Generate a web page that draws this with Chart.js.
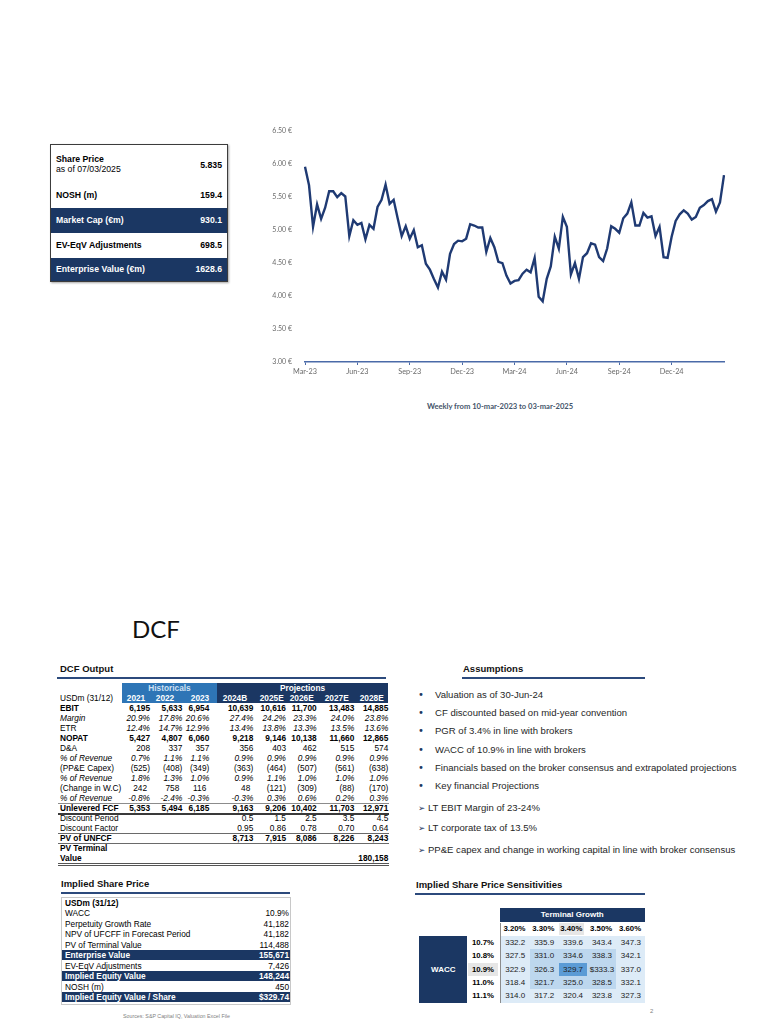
<!DOCTYPE html>
<html><head><meta charset="utf-8">
<script src="https://cdn.jsdelivr.net/npm/chart.js@4.4.1/dist/chart.umd.min.js"></script>
<style>
html,body{margin:0;padding:0;background:#fff;}
body{width:768px;height:1024px;position:relative;overflow:hidden;font-family:"Liberation Sans",Arial,sans-serif;color:#000;}
.a{position:absolute;white-space:nowrap;}
.navy{background:#1b3763;color:#fff;}
.hdr{font-weight:bold;font-size:9.5px;color:#111;}
</style></head><body>

<!-- Share price box -->
<div class="a" style="left:50px;top:144px;width:176px;height:136px;border:1px solid #3c3c3c;box-shadow:1px 1px 2px rgba(0,0,0,0.35);font-size:8.7px;font-weight:bold;">
  <div class="a" style="left:0;top:0;width:176px;height:37px;">
    <div class="a" style="left:5px;top:9px;line-height:10px;">Share Price</div>
    <div class="a" style="left:5px;top:19px;line-height:10px;font-weight:normal;">as of 07/03/2025</div>
    <div class="a" style="right:5px;top:15px;line-height:10px;" id="sp"></div>
  </div>
  <div class="a" style="left:0;top:37px;width:176px;height:26px;line-height:26px;"><span style="position:absolute;left:5px;">NOSH (m)</span><span style="position:absolute;right:5px;" id="nosh"></span></div>
  <div class="a navy" style="left:0;top:63px;width:176px;height:25px;line-height:24px;"><span style="position:absolute;left:5px;">Market Cap (€m)</span><span style="position:absolute;right:5px;" id="mcap"></span></div>
  <div class="a" style="left:0;top:88px;width:176px;height:25px;line-height:24px;"><span style="position:absolute;left:5px;">EV-EqV Adjustments</span><span style="position:absolute;right:5px;" id="adj"></span></div>
  <div class="a navy" style="left:0;top:113px;width:176px;height:23px;line-height:22px;"><span style="position:absolute;left:5px;">Enterprise Value (€m)</span><span style="position:absolute;right:5px;" id="ev"></span></div>
</div>

<!-- Chart -->
<div class="a" style="left:262px;top:122px;width:480px;height:262px;"><canvas id="c"></canvas></div>
<div class="a" style="left:300px;top:400px;width:400px;text-align:center;font-family:Lato,sans-serif;font-weight:bold;font-size:7.6px;color:#44546a;line-height:12px;">Weekly from 10-mar-2023 to 03-mar-2025</div>

<!-- DCF title -->
<div class="a" style="left:132px;top:617px;font-family:Lato,sans-serif;font-size:24px;line-height:24px;color:#111;">DCF</div>

<!-- DCF Output -->
<div class="a hdr" style="left:60px;top:663px;line-height:12px;">DCF Output</div>
<div class="a" style="left:57px;top:677px;width:329px;height:2px;background:#2c4a7c;"></div>
<div id="dcf"></div>

<!-- Assumptions -->
<div class="a hdr" style="left:463px;top:663px;line-height:12px;">Assumptions</div>
<div class="a" style="left:462px;top:677px;width:183px;height:2px;background:#2c4a7c;"></div>
<div id="assm"></div>

<!-- Implied share price -->
<div class="a hdr" style="left:61px;top:878px;line-height:12px;">Implied Share Price</div>
<div class="a" style="left:61px;top:892px;width:229px;height:2px;background:#2c4a7c;"></div>
<div class="a" style="left:61px;top:897px;width:228px;height:106px;border:1px solid #c8c8c8;"></div>
<div id="isp"></div>
<div class="a" style="left:123px;top:1012px;font-size:5.3px;color:#7f7f7f;line-height:8px;">Sources: S&amp;P Capital IQ, Valuation Excel File</div>

<!-- Sensitivities -->
<div class="a hdr" style="left:416px;top:879px;line-height:12px;">Implied Share Price Sensitivities</div>
<div class="a" style="left:415px;top:893px;width:230px;height:2px;background:#2c4a7c;"></div>
<div id="sens"></div>
<div class="a" style="left:650px;top:1007px;font-size:6px;color:#7f7f7f;line-height:8px;">2</div>

<script>
// ---------- Chart data ----------
const tickLabels = ['Mar-23','Jun-23','Sep-23','Dec-23','Mar-24','Jun-24','Sep-24','Dec-24'];
const prices = [
 5.96,5.68,5.05,5.39,5.17,5.34,5.59,5.59,5.50,5.56,5.51,4.91,5.15,5.08,5.11,4.86,5.08,5.02,5.35,5.46,
 5.69,5.40,5.46,5.18,4.91,5.06,4.87,5.00,4.74,4.77,4.49,4.40,4.26,4.13,4.37,4.25,4.64,4.79,4.84,4.83,
 4.87,5.09,5.07,5.04,5.04,4.67,4.88,4.74,4.52,4.50,4.31,
 4.19,4.23,4.24,4.34,4.40,4.36,4.58,3.99,3.92,4.26,4.45,4.90,4.72,5.20,5.05,4.33,4.50,4.26,4.59,4.65,
 4.80,4.78,4.59,4.53,4.72,5.06,5.02,4.96,5.18,5.25,5.42,5.07,5.07,5.26,5.19,5.21,4.91,5.05,4.59,4.58,
 4.90,5.14,5.24,5.30,5.25,5.16,5.20,5.34,5.38,5.44,5.47,5.28,5.42,5.835
];
const weekDates = prices.map((_, i) => {
  const d = new Date(Date.UTC(2023, 2, 10 + 7 * i));
  return d.toISOString().slice(0, 10);
});

// ---------- Share price box ----------
const spBox = {sp:'5.835', nosh:'159.4', mcap:'930.1', adj:'698.5', ev:'1628.6'};
Object.keys(spBox).forEach(k => document.getElementById(k).textContent = spBox[k]);

// ---------- DCF table ----------
const dcfYears = ['2021','2022','2023','2024B','2025E','2026E','2027E','2028E'];
const dcfRows = [
 ['EBIT','b',['6,195','5,633','6,954','10,639','10,616','11,700','13,483','14,885']],
 ['Margin','ii',['20.9%','17.8%','20.6%','27.4%','24.2%','23.3%','24.0%','23.8%']],
 ['ETR','i',['12.4%','14.7%','12.9%','13.4%','13.8%','13.3%','13.5%','13.6%']],
 ['NOPAT','b',['5,427','4,807','6,060','9,218','9,146','10,138','11,660','12,865']],
 ['D&A','',['208','337','357','356','403','462','515','574']],
 ['% of Revenue','ii',['0.7%','1.1%','1.1%','0.9%','0.9%','0.9%','0.9%','0.9%']],
 ['(PP&E Capex)','',['(525)','(408)','(349)','(363)','(464)','(507)','(561)','(638)']],
 ['% of Revenue','ii',['1.8%','1.3%','1.0%','0.9%','1.1%','1.0%','1.0%','1.0%']],
 ['(Change in W.C)','p',['242','758','116','48','(121)','(309)','(88)','(170)']],
 ['% of Revenue','ii',['-0.8%','-2.4%','-0.3%','-0.3%','0.3%','0.6%','0.2%','0.3%']],
 ['Unlevered FCF','b',['5,353','5,494','6,185','9,163','9,206','10,402','11,703','12,971']],
 ['Discount Period','',['','','','0.5','1.5','2.5','3.5','4.5']],
 ['Discount Factor','',['','','','0.95','0.86','0.78','0.70','0.64']],
 ['PV of UNFCF','b',['','','','8,713','7,915','8,086','8,226','8,243']],
 ['PV Terminal','b',['','','','','','','','']],
 ['Value','b',['','','','','','','','180,158']]
];
const colRight = [150,182.3,209.3,253.3,286,316.7,354.3,388.3];
const colHdrCenter = [136,165,200,235,271.7,301.7,336.7,371.7];
(function(){
  let h = '';
  const fs = 'font-size:8.3px;';
  h += `<div class="a" style="left:122px;top:683px;width:95px;height:20px;background:#2e75b6;"></div>`;
  h += `<div class="a navy" style="left:217px;top:683px;width:171px;height:20px;"></div>`;
  h += `<div class="a" style="left:122px;top:683px;width:95px;text-align:center;color:#cfe0f3;font-weight:bold;${fs}line-height:10px;">Historicals</div>`;
  h += `<div class="a" style="left:217px;top:683px;width:171px;text-align:center;color:#fff;font-weight:bold;${fs}line-height:10px;">Projections</div>`;
  h += `<div class="a" style="left:60px;top:693px;${fs}line-height:10px;">USDm (31/12)</div>`;
  dcfYears.forEach((y,i)=>{
    h += `<div class="a" style="left:${colHdrCenter[i]-20}px;top:693px;width:40px;text-align:center;color:#fff;font-weight:bold;${fs}line-height:10px;">${y}</div>`;
  });
  dcfRows.forEach((r,ri)=>{
    const top = 703 + ri*10;
    const st = r[1];
    const lblStyle = (st==='b'?'font-weight:bold;':'') + (st==='ii'?'font-style:italic;':'');
    const valStyle = (st==='b'?'font-weight:bold;':'') + ((st==='ii'||st==='i')?'font-style:italic;':'');
    h += `<div class="a" style="left:60px;top:${top}px;${fs}line-height:10px;${lblStyle}">${r[0].replace('&','&amp;')}</div>`;
    r[2].forEach((v,ci)=>{
      if(!v) return;
      let pr = 0;
      if(st==='p' && v.indexOf('(')<0) pr = 3;
      h += `<div class="a" style="left:${colRight[ci]-50}px;top:${top}px;width:${50-pr}px;text-align:right;${fs}line-height:10px;${valStyle}">${v}</div>`;
    });
  });
  h += `<div class="a" style="left:58px;top:803px;width:331px;height:1px;background:#8c8c8c;"></div>`;
  h += `<div class="a" style="left:58px;top:812.5px;width:331px;height:2px;background:#3a3a3a;"></div>`;
  h += `<div class="a" style="left:58px;top:833px;width:331px;height:1px;background:#6a6a6a;"></div>`;
  h += `<div class="a" style="left:58px;top:843px;width:331px;height:1px;background:#6a6a6a;"></div>`;
  h += `<div class="a" style="left:58px;top:862.5px;width:331px;height:0;border-top:3px double #555;"></div>`;
  document.getElementById('dcf').innerHTML = h;
})();

// ---------- Assumptions ----------
const assumptions = [
 ['•','Valuation as of 30-Jun-24',695],
 ['•','CF discounted based on mid-year convention',712.5],
 ['•','PGR of 3.4% in line with brokers',731],
 ['•','WACC of 10.9% in line with brokers',749.5],
 ['•','Financials based on the broker consensus and extrapolated projections',767.7],
 ['•','Key financial Projections',785.7],
 ['➢','LT EBIT Margin of 23-24%',808.3],
 ['➢','LT corporate tax of 13.5%',827.7],
 ['➢','PP&E capex and change in working capital in line with broker consensus',850]
];
(function(){
  let h='';
  assumptions.forEach(a=>{
    const arrow = a[0]!=='•';
    h += `<div class="a" style="left:418px;top:${a[2]-6}px;line-height:12px;font-size:${arrow?8.5:10}px;color:#1f3864;font-family:'DejaVu Sans',sans-serif;">${a[0]}</div>`;
    h += `<div class="a" style="left:${arrow?428:435}px;top:${a[2]-6}px;line-height:12px;font-size:9.55px;color:#262626;">${a[1].replace('&','&amp;')}</div>`;
  });
  document.getElementById('assm').innerHTML = h;
})();

// ---------- Implied share price ----------
const ispRows = [
 ['USDm (31/12)','','h'],
 ['WACC','10.9%',''],
 ['Perpetuity Growth Rate','41,182',''],
 ['NPV of UFCFF in Forecast Period','41,182',''],
 ['PV of Terminal Value','114,488',''],
 ['Enterprise Value','155,671','n'],
 ['EV-EqV Adjustments','7,426',''],
 ['Implied Equity Value','148,244','n'],
 ['NOSH (m)','450',''],
 ['Implied Equity Value / Share','$329.74','n']
];
(function(){
  let h='';
  ispRows.forEach((r,i)=>{
    const top = 897.5 + i*10.55;
    if(r[2]==='n') h += `<div class="a navy" style="left:62px;top:${top}px;width:228px;height:10px;"></div>`;
    const col = r[2]==='n' ? 'color:#fff;font-weight:bold;' : (r[2]==='h'?'font-weight:bold;':'');
    h += `<div class="a" style="left:65px;top:${top}px;line-height:10.5px;font-size:8.3px;${col}">${r[0]}</div>`;
    if(r[1]) h += `<div class="a" style="left:190px;top:${top}px;width:99px;text-align:right;line-height:10.5px;font-size:8.3px;${col}">${r[1]}</div>`;
  });
  document.getElementById('isp').innerHTML = h;
})();

// ---------- Sensitivities ----------
const growthHdr = ['3.20%','3.30%','3.40%','3.50%','3.60%'];
const waccHdr = ['10.7%','10.8%','10.9%','11.0%','11.1%'];
const sensVals = [
 ['332.2','335.9','339.6','343.4','347.3'],
 ['327.5','331.0','334.6','338.3','342.1'],
 ['322.9','326.3','329.7','$333.3','337.0'],
 ['318.4','321.7','325.0','328.5','332.1'],
 ['314.0','317.2','320.4','323.8','327.3']
];
(function(){
  let h='';
  const x0=500, cw=28.9, y0=935.7, rh=13.4;
  h += `<div class="a navy" style="left:500px;top:908.3px;width:144.5px;height:13.4px;line-height:13.4px;text-align:center;font-weight:bold;font-size:8px;">Terminal Growth</div>`;
  h += `<div class="a navy" style="left:419.3px;top:935.7px;width:48px;height:67px;line-height:67px;text-align:center;font-weight:bold;font-size:8px;">WACC</div>`;
  h += `<div class="a" style="left:500px;top:922.7px;width:0.7px;height:80px;background:#8c8c8c;"></div>`;
  growthHdr.forEach((g,i)=>{
    const bg = i===2 ? 'background:#e6e6e6;' : '';
    const l = i===2 ? x0+cw*i+1 : x0+cw*i;
    const w = i===2 ? 25 : cw;
    h += `<div class="a" style="left:${l}px;top:923px;width:${w}px;height:12px;line-height:12px;text-align:center;font-weight:bold;font-size:7.8px;${bg}">${g}</div>`;
  });
  waccHdr.forEach((w,i)=>{
    const bg = i===2 ? 'background:#e6e6e6;' : '';
    h += `<div class="a" style="left:468px;top:${y0+rh*i}px;width:30px;height:${rh}px;line-height:${rh}px;text-align:center;font-weight:bold;font-size:7.8px;${bg}">${w}</div>`;
  });
  sensVals.forEach((row,ri)=>{
    row.forEach((v,ci)=>{
      let bg = '#ddebf7';
      if(ri>=1&&ri<=3&&ci>=1&&ci<=3) bg = '#bdd7ee';
      if(ri===2&&ci===2) bg = '#5b9bd5';
      h += `<div class="a" style="left:${x0+0.7+cw*ci}px;top:${y0+rh*ri}px;width:${cw+0.2}px;height:${rh+0.2}px;line-height:${rh}px;text-align:center;font-size:8px;color:#222;background:${bg};">${v}</div>`;
    });
  });
  document.getElementById('sens').innerHTML = h;
})();

// ---------- Chart ----------
new Chart(document.getElementById('c'), {
  type: 'line',
  data: {
    labels: weekDates,
    datasets: [{ data: prices, borderColor: '#1f3a73', borderWidth: 2.4, pointRadius: 0, tension: 0, fill: false }]
  },
  options: {
    responsive: true, maintainAspectRatio: false, animation: false,
    layout: { padding: { top: 9, right: 18, left: 0, bottom: 0 } },
    plugins: { legend: { display: false }, tooltip: { enabled: false } },
    scales: {
      x: {
        type: 'category', offset: false,
        grid: { display: true, drawOnChartArea: false, drawTicks: true, tickLength: 3, color: '#4a6aa8', lineWidth: 1 },
        border: { display: true, color: '#4a6aa8', width: 1.5 },
        ticks: {
          autoSkip: false, maxRotation: 0, minRotation: 0, padding: 2,
          font: { family: 'Lato', size: 7.3 }, color: '#6b6b6b',
          callback: (v, i) => (i % 13 === 0 && i / 13 < tickLabels.length) ? tickLabels[i / 13] : null
        },
        afterFit: s => { s.height = 22; }
      },
      y: {
        min: 3, max: 6.5,
        grid: { display: false }, border: { display: false },
        ticks: { stepSize: 0.5, padding: 5, font: { family: 'Lato', size: 7 }, color: '#6b6b6b',
          callback: v => v.toFixed(2) + ' €' },
        afterFit: s => { s.width = 43; }
      }
    }
  }
});
</script>
</body></html>
